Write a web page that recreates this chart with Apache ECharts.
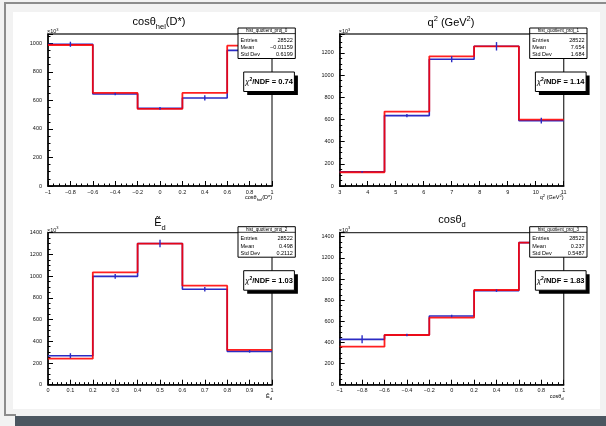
<!DOCTYPE html>
<html><head><meta charset="utf-8">
<script src="https://cdn.jsdelivr.net/npm/echarts@6/dist/echarts.min.js"></script>
<style>
html,body{margin:0;padding:0;width:606px;height:426px;overflow:hidden;background:#f2f2f2;position:relative}
.bx{position:absolute}
#chart{position:absolute;left:0;top:0;width:606px;height:426px}
</style></head>
<body>
<div class="bx" style="left:4px;top:2px;width:602px;height:2px;background:#8c8c8c"></div>
<div class="bx" style="left:4px;top:2px;width:2px;height:414px;background:#8c8c8c"></div>
<div class="bx" style="left:4px;top:414px;width:12px;height:2px;background:#8c8c8c"></div>
<div class="bx" style="left:13px;top:12px;width:587px;height:397px;background:#ffffff"></div>
<div class="bx" style="left:15px;top:416px;width:591px;height:10px;background:#4b5660"></div>
<div id="chart"></div>
<script>
// ---------- data ----------
const EDGES_1 = [-1, -0.6, -0.2, 0.2, 0.6, 1];
const DATA_1  = [993, 645, 544, 617, 950];
const ERR_1   = [18, 9, 9, 18, 18];
const FIT_1   = [988, 652, 540, 652, 983];

const EDGES_2 = [3, 4.6, 6.2, 7.8, 9.4, 11];
const DATA_2  = [128, 635, 1143, 1260, 589];
const ERR_2   = [8, 14, 27, 38, 26];
const FIT_2   = [124, 671, 1170, 1260, 598];

const EDGES_3 = [0, 0.2, 0.4, 0.6, 0.8, 1];
const DATA_3  = [267, 998, 1300, 879, 307];
const ERR_3   = [23, 21, 34, 20, 12];
const FIT_3   = [240, 1035, 1300, 912, 320];

const EDGES_4 = [-1, -0.6, -0.2, 0.2, 0.6, 1];
const DATA_4  = [429, 470, 650, 890, 1344];
const ERR_4   = [38, 12, 12, 12, 20];
const FIT_4   = [360, 470, 634, 896, 1344];

const Y_MAX = [1065, 1371, 1400, 1438];
const X_RANGE = [[-1, 1, 0.2], [3, 11, 1], [0, 1, 0.1], [-1, 1, 0.2]];
const TITLES = ['{m|cosθ}{s|hel}{m|(D*)}', '{m|q}{p|2}{m| (GeV}{p|2}{m|)}', '{m|Ẽ}{s|d}', '{m|cosθ}{s|d}'];
const X_TITLES = ['{m|cosθ}{s|hel}{m|(D*)}', '{m|q}{p|2}{m| (GeV}{p|2}{m|)}', '{m|Ẽ}{s|d}', '{m|cosθ}{s|d}'];
const STAT_NAMES = ['hist_quotient_proj_0', 'hist_quotient_proj_1', 'hist_quotient_proj_2', 'hist_quotient_proj_3'];
const STAT_LABELS = ['Entries', 'Mean', 'Std Dev'];
const ENTRIES = ['28522', '28522', '28522', '28522'];
const MEANS = ['\u22120.01159', '7.654', '0.498', '0.237'];
const STDDEVS = ['0.6199', '1.684', '0.2112', '0.5487'];
const CHI2 = ['0.74', '1.14', '1.03', '1.83'];

// ---------- layout ----------
const FONT = '"Liberation Sans", Arial, sans-serif';
const GRIDS = [
  {left: 48, top: 34}, {left: 339.7, top: 34},
  {left: 48, top: 232.7}, {left: 339.7, top: 232.7}
];
const GW = 224, GH = 152;
const MINOR = [4, 5, 5, 4];
const TITLE_POS = [[159, 22], [451, 23], [160, 223], [452, 220]];
const BLUE = '#2b2bc4', RED = 'rgba(255,0,0,0.88)';

const panels = [
  {edges: EDGES_1, data: DATA_1, err: ERR_1, fit: FIT_1},
  {edges: EDGES_2, data: DATA_2, err: ERR_2, fit: FIT_2},
  {edges: EDGES_3, data: DATA_3, err: ERR_3, fit: FIT_3},
  {edges: EDGES_4, data: DATA_4, err: ERR_4, fit: FIT_4}
];

function steps(edges, vals) {
  const pts = [];
  for (let i = 0; i < vals.length; i++) {
    pts.push([edges[i], vals[i]]);
    pts.push([edges[i + 1], vals[i]]);
  }
  return pts;
}
function fmt(v) {
  const r = Math.round(v * 1000) / 1000;
  return (r < 0 ? '\u2212' : '') + String(Math.abs(r));
}

const grid = [], xAxis = [], yAxis = [], series = [], graphic = [];
const richT = {
  m: {fontSize: 11, fontFamily: FONT, fill: '#000'},
  s: {fontSize: 7.5, fontFamily: FONT, fill: '#000', padding: [9, 0, 0, 0]},
  p: {fontSize: 7.5, fontFamily: FONT, fill: '#000', padding: [0, 0, 9, 0]}
};
const richX = {
  m: {fontSize: 5.5, fontFamily: FONT, fill: '#000'},
  s: {fontSize: 4.2, fontFamily: FONT, fill: '#000', padding: [5, 0, 0, 0]},
  p: {fontSize: 4.2, fontFamily: FONT, fill: '#000', padding: [0, 0, 4, 0]}
};

panels.forEach((p, i) => {
  const g = GRIDS[i];
  grid.push({left: g.left, top: g.top, width: GW, height: GH, show: true,
    borderColor: '#3a3a3a', borderWidth: 1.3, backgroundColor: 'transparent'});
  const xr = X_RANGE[i];
  xAxis.push({type: 'value', gridIndex: i, min: xr[0], max: xr[1], interval: xr[2],
    axisLine: {show: true, onZero: false, lineStyle: {color: '#000', width: 1.5}},
    axisTick: {show: true, inside: true, length: 5, lineStyle: {color: '#000', width: 1}},
    minorTick: {show: true, splitNumber: MINOR[i], length: 2.5, lineStyle: {color: '#000', width: 1}},
    splitLine: {show: false}, minorSplitLine: {show: false},
    axisLabel: {fontSize: 5.5, fontFamily: FONT, color: '#111', margin: 3, formatter: fmt}});
  yAxis.push({type: 'value', gridIndex: i, min: 0, max: Y_MAX[i], interval: 200,
    axisLine: {show: true, onZero: false, lineStyle: {color: '#000', width: 1.5}},
    axisTick: {show: true, inside: true, length: 5, lineStyle: {color: '#000', width: 1}},
    minorTick: {show: true, splitNumber: 4, length: 2.5, lineStyle: {color: '#000', width: 1}},
    splitLine: {show: false}, minorSplitLine: {show: false},
    axisLabel: {fontSize: 5.5, fontFamily: FONT, color: '#111', margin: 6, formatter: fmt,
      showMaxLabel: Y_MAX[i] % 200 === 0}});
  series.push({type: 'line', xAxisIndex: i, yAxisIndex: i, data: steps(p.edges, p.data),
    symbol: 'none', lineStyle: {color: BLUE, width: 1.6}, z: 2, silent: true});
  series.push({type: 'line', xAxisIndex: i, yAxisIndex: i, data: steps(p.edges, p.fit),
    symbol: 'none', lineStyle: {color: RED, width: 1.8}, z: 3, silent: true});
  const eb = p.data.map((v, k) => [(p.edges[k] + p.edges[k + 1]) / 2, v, p.err[k]]);
  series.push({type: 'custom', xAxisIndex: i, yAxisIndex: i, data: eb, z: 4, silent: true,
    renderItem: (params, api) => {
      const x = api.value(0), v = api.value(1), e = api.value(2);
      const a = api.coord([x, v - e]), b = api.coord([x, v + e]);
      return {type: 'line', shape: {x1: a[0], y1: a[1], x2: b[0], y2: b[1]},
        style: {stroke: BLUE, lineWidth: 1.4}};
    }});

  // title
  graphic.push({type: 'text', z: 100, x: TITLE_POS[i][0], y: TITLE_POS[i][1],
    style: {text: TITLES[i], rich: richT, textAlign: 'center', textVerticalAlign: 'middle', fill: '#000'}});
  // x axis title
  graphic.push({type: 'text', z: 100, x: g.left + GW, y: g.top + GH + 11.5,
    style: {text: X_TITLES[i], rich: richX, textAlign: 'right', textVerticalAlign: 'middle', fill: '#000'}});
  // x10^3
  graphic.push({type: 'text', z: 100, x: g.left - 1, y: g.top - 2.5,
    style: {text: '{m|\u00d710}{p|3}', rich: {
      m: {fontSize: 5.5, fontFamily: FONT, fill: '#111'},
      p: {fontSize: 4, fontFamily: FONT, fill: '#111', padding: [0, 0, 4, 0]}},
      textAlign: 'left', textVerticalAlign: 'middle'}});
  // stats box
  const sx = g.left + GW - 34, sy = g.top - 6, sw = 57.3, sh = 30.5;
  graphic.push({type: 'rect', z: 100, shape: {x: sx, y: sy, width: sw, height: sh},
    style: {fill: '#fff', stroke: '#000', lineWidth: 1}});
  graphic.push({type: 'line', z: 101, shape: {x1: sx, y1: sy + 5.6, x2: sx + sw, y2: sy + 5.6},
    style: {stroke: '#000', lineWidth: 0.8}});
  graphic.push({type: 'text', z: 101, x: sx + sw / 2, y: sy + 3,
    style: {text: STAT_NAMES[i], font: '4.6px ' + FONT, fill: '#000', textAlign: 'center', textVerticalAlign: 'middle'}});
  const vals = [ENTRIES[i], MEANS[i], STDDEVS[i]];
  const rowY = [12, 19.5, 26.3];
  STAT_LABELS.forEach((lab, k) => {
    graphic.push({type: 'text', z: 101, x: sx + 2.5, y: sy + rowY[k],
      style: {text: lab, font: '5.5px ' + FONT, fill: '#000', textAlign: 'left', textVerticalAlign: 'middle'}});
    graphic.push({type: 'text', z: 101, x: sx + sw - 2.5, y: sy + rowY[k],
      style: {text: vals[k], font: '5.5px ' + FONT, fill: '#000', textAlign: 'right', textVerticalAlign: 'middle'}});
  });
  // chi2 box
  const cx = g.left + GW - 28.3, cy = g.top + 38, cw = 50.7, ch = 19.5;
  graphic.push({type: 'rect', z: 100, shape: {x: cx + 3.5, y: cy + 3.5, width: cw, height: ch},
    style: {fill: '#000'}});
  graphic.push({type: 'rect', z: 101, shape: {x: cx, y: cy, width: cw, height: ch},
    style: {fill: '#fff', stroke: '#000', lineWidth: 1}});
  graphic.push({type: 'text', z: 102, x: cx + cw / 2, y: cy + ch / 2 + 0.5,
    style: {text: '{c|\u03c7}{p|2}{b|/NDF = ' + CHI2[i] + '}', rich: {
      c: {fontSize: 7.5, fontFamily: FONT, fontStyle: 'italic', fill: '#000'},
      p: {fontSize: 5, fontFamily: FONT, fontWeight: 'bold', fill: '#000', padding: [0, 0, 5, 0]},
      b: {fontSize: 7.5, fontFamily: FONT, fontWeight: 'bold', fill: '#000'}},
      textAlign: 'center', textVerticalAlign: 'middle'}});
});

const chart = echarts.init(document.getElementById('chart'), null, {renderer: 'canvas'});
chart.setOption({animation: false, backgroundColor: 'transparent', grid, xAxis, yAxis, series, graphic});
</script>
</body></html>
